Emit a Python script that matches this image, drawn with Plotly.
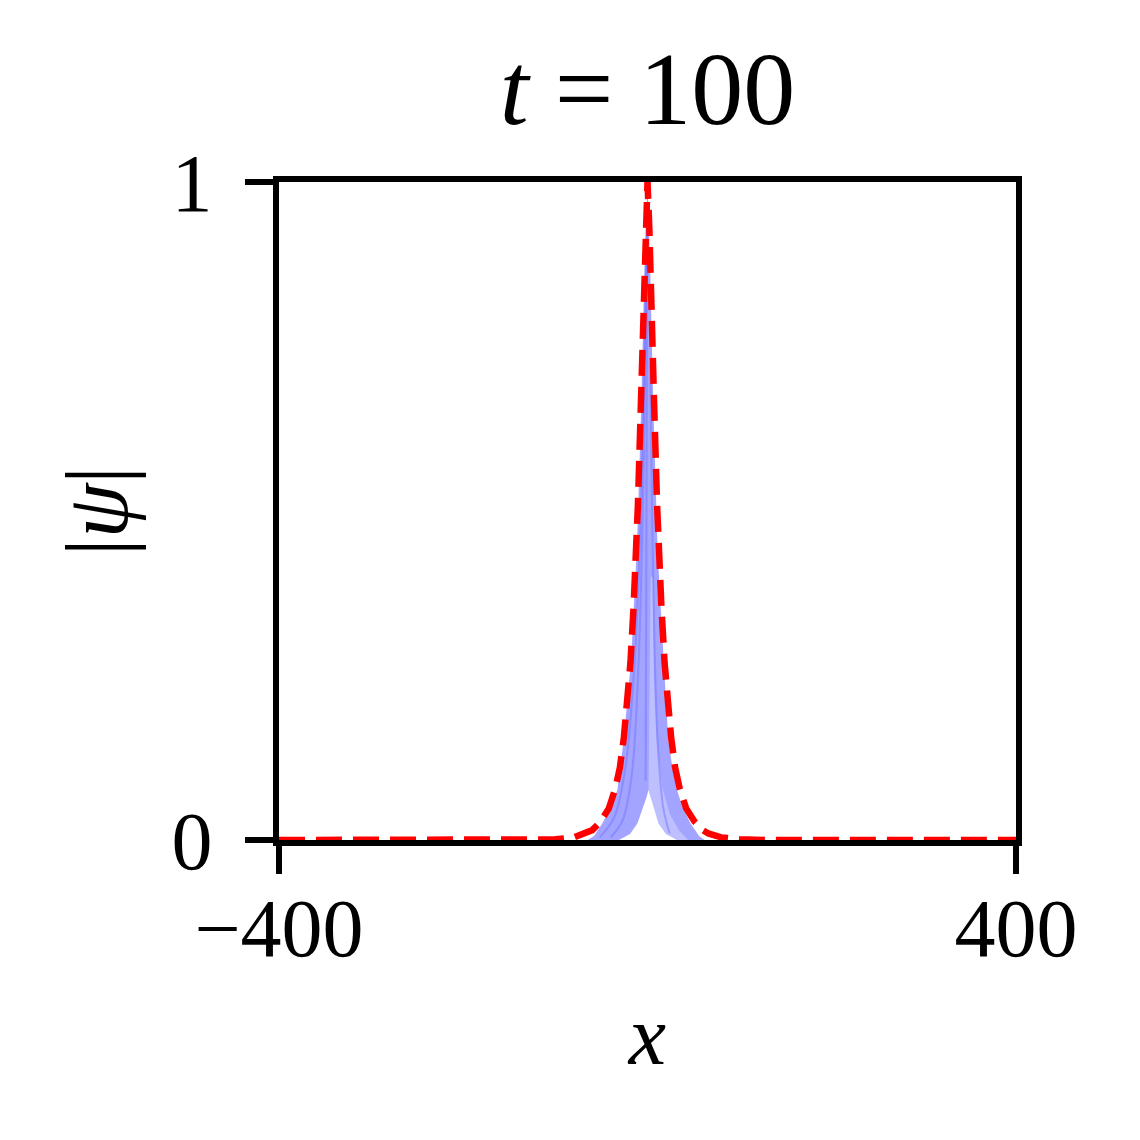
import plotly.graph_objects as go

# ---- data ----
# red dashed reference profile |psi|(x)
red_x = [-400, -130, -100, -80, -66, -60, -51, -42, -35, -30, -25.7, -22, -18.5, -15.1, -12.1,
         -10.4, -7.2, -3.6, -2, 0, 2, 3.6, 7.2, 10.4, 12.1, 15.1, 18.5, 22, 25.7, 30, 35, 42,
         51, 60, 66, 80, 100, 130, 400]
red_y = [0, 0, 0.001, 0.004, 0.01, 0.015, 0.028, 0.048, 0.078, 0.11, 0.155, 0.205, 0.27, 0.355, 0.44,
         0.51, 0.662, 0.864, 0.93, 1.0, 0.93, 0.864, 0.662, 0.51, 0.44, 0.355, 0.27, 0.205, 0.155, 0.11, 0.078, 0.048,
         0.028, 0.015, 0.01, 0.004, 0.001, 0, 0]

# blue band of evolving profiles: outer envelope (left -> peak -> right)
env_x = [-65, -58, -48.8, -40, -32.7, -29.5, -25.9, -17.8, -14.6, -11.7, -10, -6.8, -3.4, -1.5, 0,
         1.2, 3.0, 6.3, 9.5, 11, 14, 17.5, 22.6, 27, 32, 38, 46.4, 56, 62]
env_y = [0, 0.006, 0.026, 0.05, 0.076, 0.11, 0.152, 0.273, 0.36, 0.44, 0.51, 0.662, 0.864, 0.95, 1.0,
         0.95, 0.864, 0.662, 0.51, 0.44, 0.36, 0.273, 0.152, 0.11, 0.076, 0.05, 0.026, 0.006, 0]
# inner empty cusp (right base -> tip -> left base)
cusp_x = [32, 26, 20, 12, 7.5, 4, 1.1, -1.5, -5.7, -11, -19, -25, -31]
cusp_y = [0, 0.004, 0.009, 0.025, 0.045, 0.062, 0.076, 0.063, 0.045, 0.025, 0.009, 0.004, 0]

# paler region right of the cusp (fewer overlapping profiles)
pale_x = [1.1, 3.5, 5.5, 7, 10, 16, 24, 34, 44, 32, 26, 20, 12, 7.5, 4]
pale_y = [0.076, 0.4, 0.4, 0.25, 0.15, 0.08, 0.04, 0.015, 0, 0, 0.004, 0.009, 0.025, 0.045, 0.062]

# darker streaks inside the band (individual profiles)
streak1_x = [-52, -36, -24, -15, -9, -5, -2.5, -1]
streak1_y = [0.004, 0.035, 0.11, 0.25, 0.42, 0.62, 0.8, 0.93]
streak2_x = [-40, -27, -17, -10, -6, -3, -1.2]
streak2_y = [0.004, 0.03, 0.1, 0.26, 0.45, 0.68, 0.88]
streak3_x = [24, 17, 11, 7.5, 5, 3]
streak3_y = [0.01, 0.05, 0.15, 0.3, 0.5, 0.72]
streak4_x = [-2, -1.2, -0.5, 0]
streak4_y = [0.09, 0.45, 0.8, 0.97]

x_ticks = [-400, 400]
x_ticktext = ["\u2212400", "400"]
y_ticks = [0, 1]
y_ticktext = ["0", "1"]

FONT = "Liberation Serif"

fig = go.Figure()
fig.add_trace(go.Scatter(
    x=env_x + cusp_x, y=env_y + cusp_y, mode="lines", fill="toself",
    fillcolor="rgb(162,164,255)", line=dict(width=0), hoverinfo="skip", showlegend=False))
fig.add_trace(go.Scatter(
    x=pale_x, y=pale_y, mode="lines", fill="toself",
    fillcolor="rgba(255,255,255,0.3)", line=dict(width=0), hoverinfo="skip", showlegend=False))
for sx, sy in [(streak1_x, streak1_y), (streak2_x, streak2_y), (streak3_x, streak3_y),
               (streak4_x, streak4_y)]:
    fig.add_trace(go.Scatter(
        x=sx, y=sy, mode="lines", line=dict(color="rgba(115,115,255,0.5)", width=2, shape="spline"),
        hoverinfo="skip", showlegend=False))
fig.add_trace(go.Scatter(
    x=red_x, y=red_y, mode="lines",
    line=dict(color="rgb(255,0,0)", width=6.5, dash="26px,11px"), showlegend=False))

fig.update_layout(
    width=1140, height=1140,
    margin=dict(l=271, r=132, t=174, b=308),
    paper_bgcolor="white", plot_bgcolor="white",
    font=dict(family=FONT, color="black", size=82),
    title=dict(text="<i>t</i> = 100", x=0.5, xanchor="center", xref="paper",
               y=0.93, yanchor="middle", yref="container",
               font=dict(family=FONT, size=104, color="black")),
)
fig.update_xaxes(
    range=[-400, 400], tickvals=x_ticks, ticktext=x_ticktext,
    showgrid=False, zeroline=False, showline=True, linecolor="black", linewidth=6,
    mirror=True, ticks="outside", ticklen=28, tickwidth=6, tickcolor="black",
    tickfont=dict(family=FONT, size=82), ticklabelstandoff=-16,
    title=dict(text="<i>x</i>", font=dict(family=FONT, size=84), standoff=34),
)
fig.update_yaxes(
    range=[0, 1], tickvals=y_ticks, ticktext=y_ticktext,
    showgrid=False, zeroline=False, showline=True, linecolor="black", linewidth=6,
    mirror=True, ticks="outside", ticklen=28, tickwidth=6, tickcolor="black",
    tickfont=dict(family=FONT, size=82), ticklabelstandoff=16,
    title=dict(text="|<i>\u03c8</i>|", font=dict(family=FONT, size=88), standoff=17),
)

fig.write_html("out.html")
